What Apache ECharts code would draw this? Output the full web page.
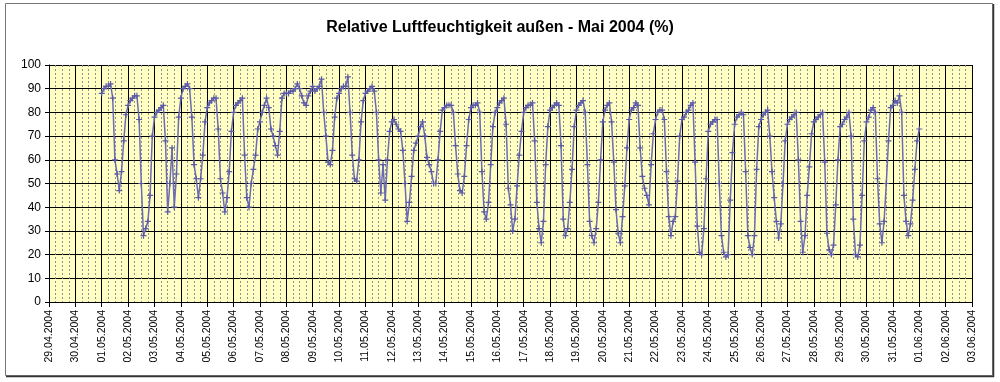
<!DOCTYPE html>
<html><head><meta charset="utf-8">
<script src="https://cdn.jsdelivr.net/npm/echarts@6/dist/echarts.min.js"></script>
<style>html,body{margin:0;padding:0;background:#fff}#c{width:1000px;height:382px}</style>
</head><body><div id="c"></div>
<script>
const titleText = 'Relative Luftfeuchtigkeit außen - Mai 2004 (%)';
const dateLabels = ['29.04.2004','30.04.2004',
 '01.05.2004','02.05.2004','03.05.2004','04.05.2004','05.05.2004','06.05.2004','07.05.2004','08.05.2004',
 '09.05.2004','10.05.2004','11.05.2004','12.05.2004','13.05.2004','14.05.2004','15.05.2004','16.05.2004',
 '17.05.2004','18.05.2004','19.05.2004','20.05.2004','21.05.2004','22.05.2004','23.05.2004','24.05.2004',
 '25.05.2004','26.05.2004','27.05.2004','28.05.2004','29.05.2004','30.05.2004','31.05.2004',
 '01.06.2004','02.06.2004','03.06.2004'];
const firstDataDay = 2; // index of 01.05.2004 in dateLabels
const sampleHours = [0,2,4,6,8,10,12,14,16,18,20,22];
const may01 = [88,90,91,91,92,86,60,54,47,55,68,79];
const may02 = [83,85,86,87,87,77,50,28,31,34,45,70];
const may03 = [78,80,81,82,83,68,38,50,65,40,54,78];
const may04 = [86,90,91,92,90,78,58,52,44,52,62,76];
const may05 = [82,84,85,86,86,73,52,46,38,44,55,72];
const may06 = [80,83,84,85,86,62,44,40,50,56,62,73];
const may07 = [76,80,83,86,82,73,70,66,62,72,86,88];
const may08 = [88,88,89,89,90,92,90,87,84,83,87,89];
const may09 = [91,89,90,91,94,80,70,59,58,64,78,86];
const may10 = [88,90,91,91,95,80,62,52,51,60,76,85];
const may11 = [88,89,90,91,89,80,60,46,58,43,60,72];
const may12 = [76,77,75,73,72,64,50,34,42,53,64,67];
const may13 = [70,74,76,70,61,58,55,50,50,60,72,81];
const may14 = [82,83,83,83,80,66,54,47,46,53,66,77];
const may15 = [82,83,83,84,80,55,38,35,42,58,74,80];
const may16 = [82,84,85,86,75,48,41,30,35,49,62,72];
const may17 = [80,82,83,83,84,68,42,31,25,34,58,74];
const may18 = [81,82,83,84,83,66,35,28,31,42,56,74];
const may19 = [81,83,84,85,80,58,34,28,25,31,42,60];
const may20 = [76,81,83,84,76,59,39,29,25,36,49,65];
const may21 = [77,81,82,84,83,65,53,48,45,41,58,71];
const may22 = [77,80,81,81,77,55,36,28,34,36,51,70];
const may23 = [77,78,80,81,83,84,59,32,21,20,31,52];
const may24 = [72,75,76,77,77,50,28,21,19,20,43,63];
const may25 = [75,78,79,80,79,55,28,23,20,28,56,74];
const may26 = [77,79,80,81,70,55,44,34,27,33,50,68];
const may27 = [75,77,78,79,80,60,34,21,28,45,57,71];
const may28 = [76,77,78,79,80,59,29,22,20,24,41,60];
const may29 = [74,75,77,78,80,70,35,20,19,24,45,68];
const may30 = [76,78,81,82,80,52,33,25,34,50,68,82];
const may31 = [83,85,84,87,80,45,34,28,33,43,56,68];
const jun01 = [73];

const days = [may01,may02,may03,may04,may05,may06,may07,may08,may09,may10,may11,may12,may13,may14,may15,
  may16,may17,may18,may19,may20,may21,may22,may23,may24,may25,may26,may27,may28,may29,may30,may31,jun01];
const seriesData = [];
days.forEach((vals, d) => {
  vals.forEach((v, i) => {
    seriesData.push([firstDataDay + d + sampleHours[i] / 24, v]);
  });
});

const chart = echarts.init(document.getElementById('c'), null, {renderer: 'canvas'});
chart.setOption({
  animation: false,
  backgroundColor: '#ffffff',
  title: {
    text: titleText, left: 'center', top: 15,
    textStyle: {fontFamily: 'Liberation Sans, Arial, sans-serif', fontSize: 16, fontWeight: 'bold', color: '#000'}
  },
  graphic: [
    {type: 'rect', silent: true, z: -1,
     shape: {x: 5.5, y: 3.5, width: 987, height: 372},
     style: {fill: 'none', stroke: '#777', lineWidth: 1}},
    {type: 'polyline', silent: true, z: -1,
     shape: {points: [[993.5, 4], [993.5, 376.5], [6, 376.5]]},
     style: {fill: 'none', stroke: '#333', lineWidth: 1.5}}
  ],
  grid: {left: 49, right: 28, top: 65, bottom: 80, show: true, backgroundColor: '#FFFFC4', borderWidth: 0},
  xAxis: {
    type: 'value', min: 0, max: 35, interval: 1,
    axisLine: {show: true, lineStyle: {color: '#000', width: 1}},
    axisTick: {show: true, length: 5, lineStyle: {color: '#000'}},
    axisLabel: {
      rotate: 90, margin: 8, fontSize: 10.5, color: '#000', fontFamily: 'Liberation Sans, Arial, sans-serif',
      showMinLabel: true, showMaxLabel: true,
      formatter: (v) => dateLabels[Math.round(v)] || ''
    },
    splitLine: {show: true, lineStyle: {color: '#000', width: 1}},
    minorTick: {show: false, splitNumber: 4},
    minorSplitLine: {show: true, lineStyle: {color: '#8f8f8f', width: 1, type: [2, 2]}}
  },
  yAxis: {
    type: 'value', min: 0, max: 100, interval: 10,
    axisLine: {show: true, lineStyle: {color: '#000', width: 1}},
    axisTick: {show: true, length: 4, lineStyle: {color: '#000'}},
    axisLabel: {fontSize: 12, color: '#000', margin: 8, fontFamily: 'Liberation Sans, Arial, sans-serif'},
    splitLine: {show: true, lineStyle: {color: '#000', width: 1}}
  },
  series: [{
    type: 'line',
    data: seriesData,
    symbol: 'path://M2,0H3V2H5V3H3V5H2V3H0V2H2Z',
    symbolSize: 6,
    showAllSymbol: true,
    lineStyle: {color: '#6c6cb2', width: 1.5},
    itemStyle: {color: '#5a5aa6'},
    emphasis: {disabled: true}
  }]
});
</script>
</body></html>
